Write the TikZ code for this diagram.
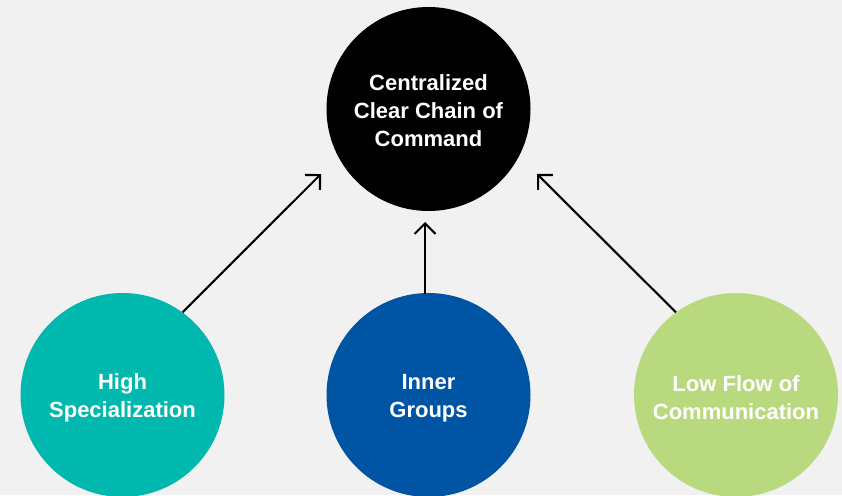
\documentclass[tikz,border=0pt]{standalone}
\usepackage{fontspec}
\setmainfont{Liberation Sans}
\usetikzlibrary{arrows.meta}
\definecolor{bgc}{RGB}{241,241,241}
\definecolor{tealc}{RGB}{0,184,173}
\definecolor{bluec}{RGB}{0,84,164}
\definecolor{greenc}{RGB}{185,217,126}
\begin{document}
\begin{tikzpicture}[x=1pt,y=-1pt,
  circ/.style={circle,minimum size=204pt,inner sep=0pt},
  lbl/.style={text=white,align=center,
    font=\fontsize{22pt}{28pt}\selectfont\bfseries},
  conn/.style={line width=2.1pt,-{Straight Barb[length=10.5pt,width=21pt]}}]
\fill[bgc] (0,0) rectangle (842,495);
\useasboundingbox (0,0) rectangle (842,495);
\node[circ,fill=black] (top) at (428.5,109) {};
\node[circ,fill=tealc] (teal) at (122.5,395) {};
\node[circ,fill=bluec] (blue) at (428.5,395) {};
\node[circ,fill=greenc] (green) at (736,395) {};
\node[lbl] (toptext) at ([yshift=-1.5pt]top.center) {Centralized\\Clear Chain of\\Command};
\node[lbl] (tealtext) at ([yshift=-3pt]teal.center) {High\\Specialization};
\node[lbl] (bluetext) at ([yshift=-3pt]blue.center) {Inner\\Groups};
\node[lbl] (greentext) at ([yshift=-3pt]green.center) {Low Flow of\\Communication};
\coordinate (tl) at (321,174);
\coordinate (tm) at (425,222);
\coordinate (tr) at (537,174);
\coordinate (sm) at (425,293.5);
\draw[conn] (teal.54) -- (tl);
\draw[conn] (sm) -- (tm);
\draw[conn] (green.126) -- (tr);
\end{tikzpicture}
\end{document}
